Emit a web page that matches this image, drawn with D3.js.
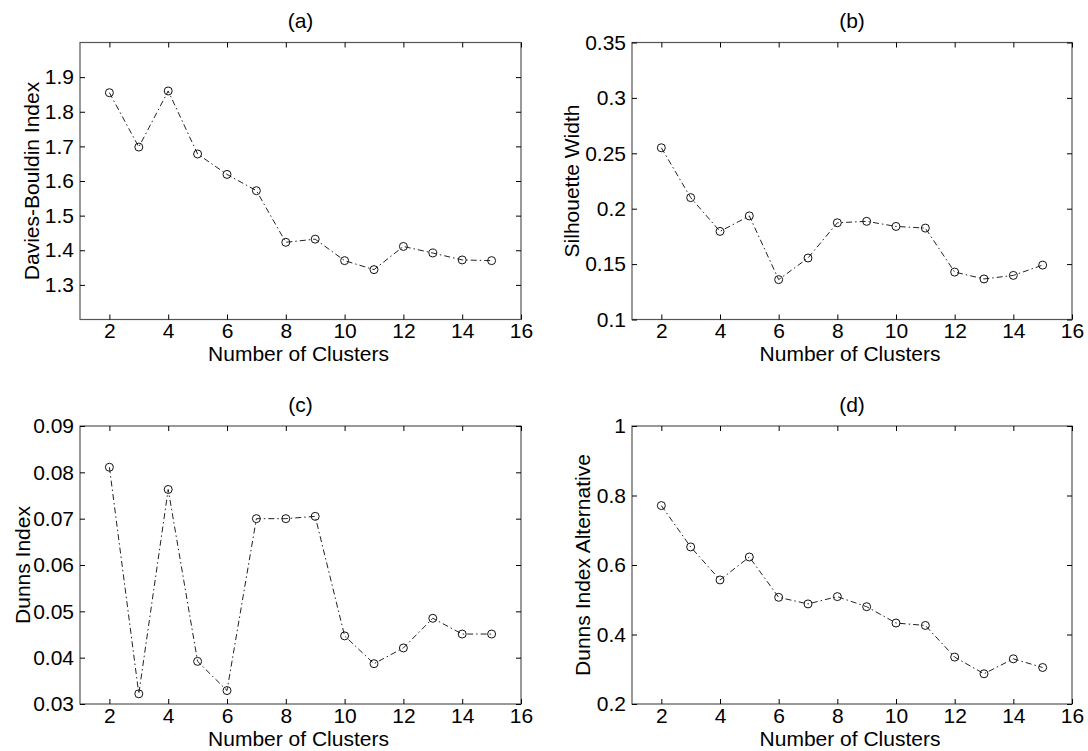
<!DOCTYPE html>
<html><head><meta charset="utf-8">
<script src="https://cdn.jsdelivr.net/npm/d3@7"></script>
<style>
body{margin:0;background:#fff;}
svg{display:block;font-family:"Liberation Sans",Arial,sans-serif;}
</style></head>
<body>
<svg id="chart" width="1088" height="751"></svg>
<script>
const clusters = [2,3,4,5,6,7,8,9,10,11,12,13,14,15];
const xTicks = [2,4,6,8,10,12,14,16];

const daviesBouldin = [1.855,1.698,1.860,1.678,1.619,1.572,1.423,1.432,1.370,1.344,1.411,1.392,1.372,1.370];
const silhouette = [0.255,0.210,0.1795,0.1935,0.136,0.1555,0.1873,0.1886,0.184,0.1825,0.1428,0.1366,0.1398,0.1491];
const dunns = [0.0811,0.0322,0.0763,0.0392,0.0329,0.0700,0.0700,0.0705,0.0447,0.0387,0.0421,0.0485,0.0451,0.0451];
const dunnsAlt = [0.771,0.652,0.557,0.623,0.507,0.488,0.509,0.480,0.433,0.426,0.335,0.287,0.330,0.305];

const yTicksA = [1.3,1.4,1.5,1.6,1.7,1.8,1.9];
const yTicksB = [0.1,0.15,0.2,0.25,0.3,0.35];
const yTicksC = [0.03,0.04,0.05,0.06,0.07,0.08,0.09];
const yTicksD = [0.2,0.4,0.6,0.8,1];

const panels = [
  {title:"(a)", ylabel:"Davies-Bouldin Index", values:daviesBouldin, yDomain:[1.2,2.0], yTicks:yTicksA,
   box:{x:80,y:42.5,w:441,h:277}, ylabX:31},
  {title:"(b)", ylabel:"Silhouette Width", values:silhouette, yDomain:[0.1,0.35], yTicks:yTicksB,
   box:{x:632,y:42.5,w:440,h:277}, ylabX:571},
  {title:"(c)", ylabel:"Dunns Index", values:dunns, yDomain:[0.03,0.09], yTicks:yTicksC,
   box:{x:80,y:426,w:441,h:278}, ylabX:22},
  {title:"(d)", ylabel:"Dunns Index Alternative", values:dunnsAlt, yDomain:[0.2,1], yTicks:yTicksD,
   box:{x:632,y:426,w:440,h:278}, ylabX:582}
];

const svg = d3.select("#chart");
const FS = 21;

panels.forEach(p => {
  const b = p.box;
  const x = d3.scaleLinear().domain([1,16]).range([b.x, b.x+b.w]);
  const y = d3.scaleLinear().domain(p.yDomain).range([b.y+b.h, b.y]);
  const g = svg.append("g");

  // box
  g.append("rect").attr("x",b.x).attr("y",b.y).attr("width",b.w).attr("height",b.h)
    .attr("fill","none").attr("stroke","#555").attr("stroke-width",1.2);

  const fmt = d => String(+d.toFixed(3));

  const ax = (axis, tr) => {
    const a = g.append("g").attr("transform",tr).call(axis);
    a.select(".domain").remove();
    a.selectAll(".tick line").attr("stroke","#000").attr("stroke-width",1);
    a.selectAll("text").attr("fill","#000").style("font-size",FS+"px")
      .style("font-family","'Liberation Sans',Arial,sans-serif");
    return a;
  };
  ax(d3.axisBottom(x).tickValues(xTicks).tickSizeInner(-5).tickSizeOuter(0).tickPadding(4).tickFormat(fmt),
     `translate(0,${b.y+b.h})`);
  ax(d3.axisTop(x).tickValues(xTicks).tickSizeInner(-5).tickSizeOuter(0).tickFormat(""),
     `translate(0,${b.y})`);
  ax(d3.axisLeft(y).tickValues(p.yTicks).tickSizeInner(-5).tickSizeOuter(0).tickPadding(6).tickFormat(fmt),
     `translate(${b.x},0)`);
  ax(d3.axisRight(y).tickValues(p.yTicks).tickSizeInner(-5).tickSizeOuter(0).tickFormat(""),
     `translate(${b.x+b.w},0)`);

  // title
  g.append("text").attr("x", b.x+b.w/2).attr("y", b.y-22).attr("text-anchor","middle")
    .attr("dominant-baseline","central").style("font-size",FS+"px").text(p.title);
  // x label
  g.append("text").attr("x", b.x+b.w/2 - 2).attr("y", b.y+b.h+34).attr("text-anchor","middle")
    .attr("dominant-baseline","central").style("font-size",FS+"px").text("Number of Clusters");
  // y label
  g.append("text").attr("transform",`translate(${p.ylabX},${b.y+b.h/2}) rotate(-90)`)
    .attr("text-anchor","middle").attr("dominant-baseline","central")
    .style("font-size",FS+"px").text(p.ylabel);

  const data = clusters.map((c,i)=>({c, v:p.values[i]}));
  const line = d3.line().x(d=>x(d.c)).y(d=>y(d.v));
  g.append("path").datum(data).attr("d",line).attr("fill","none")
    .attr("stroke","#222").attr("stroke-width",1).attr("stroke-dasharray","6,3,1.5,3");
  g.selectAll("circle.pt").data(data).join("circle").attr("class","pt")
    .attr("cx",d=>x(d.c)).attr("cy",d=>y(d.v)).attr("r",4)
    .attr("fill","none").attr("stroke","#111").attr("stroke-width",1);
});
</script>
</body></html>
